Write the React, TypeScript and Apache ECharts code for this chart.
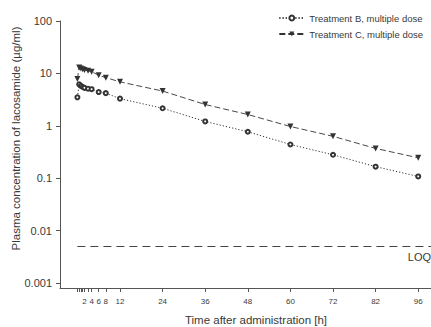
import React, { useEffect, useRef } from "react";
import * as echarts from "echarts";

const hours = [0, 0.5, 1, 1.5, 2, 3, 4, 6, 8, 12, 24, 36, 48, 60, 72, 84, 96];
const treatmentB = [3.5, 6.2, 5.8, 5.5, 5.3, 5.1, 5.0, 4.4, 4.2, 3.3, 2.16, 1.21, 0.77, 0.44, 0.28, 0.166, 0.108];
const treatmentC = [7.8, 13.0, 12.4, 12.0, 11.6, 11.2, 10.8, 9.2, 8.3, 6.9, 4.6, 2.55, 1.64, 0.97, 0.63, 0.37, 0.245];
const loqValue = 0.005;
const loqStartHour = 0;
const loqEndHour = 99.6;

const xTickValues = [0, 0.5, 1, 1.5, 2, 3, 4, 6, 8, 12, 24, 36, 48, 60, 72, 84, 96];
const xLabelValues = [2, 4, 6, 8, 12, 24, 36, 48, 60, 72, 84, 96];
const xLabelTexts = ["2", "4", "6", "8", "12", "24", "36", "48", "60", "72", "82", "96"];
const yTickValues = [0.001, 0.01, 0.1, 1, 10, 100];

const FONT = "Liberation Sans, Arial, sans-serif";
const INK = "#333";
const TEXT = "#3a3a3a";

export default function App() {
  const ref = useRef<HTMLDivElement>(null);
  useEffect(() => {
    if (!ref.current) return;
    const chart = echarts.init(ref.current, undefined, { renderer: "svg" });
    const seriesB = hours.map((h, i) => [h, treatmentB[i]]);
    const seriesC = hours.map((h, i) => [h, treatmentC[i]]);
    chart.setOption({
      animation: false,
      textStyle: { fontFamily: FONT },
      grid: { left: 60, right: 0, top: 21, bottom: 39, outerBoundsMode: "none", containLabel: false },
      legend: {
        data: ["Treatment B, multiple dose", "Treatment C, multiple dose"],
        orient: "vertical",
        right: 3,
        top: 8,
        itemWidth: 25,
        itemHeight: 6,
        itemGap: 6,
        textStyle: { fontSize: 9.5, color: TEXT, fontFamily: FONT },
      },
      xAxis: {
        type: "value",
        min: -4.9,
        max: 99.6,
        name: "Time after administration [h]",
        nameLocation: "middle",
        nameGap: 26,
        nameMoveOverlap: false,
        nameTextStyle: { fontSize: 11.5, color: TEXT, fontFamily: FONT, padding: [0, 0, 0, 21] },
        axisLine: { show: true, onZero: false, lineStyle: { color: "#555", width: 1 } },
        axisTick: { show: true, length: 4, lineStyle: { color: "#555" }, customValues: xTickValues },
        axisLabel: {
          fontSize: 8,
          color: TEXT,
          margin: 9,
          customValues: xLabelValues,
          formatter: (v: number) => {
            const i = xLabelValues.indexOf(v);
            return i >= 0 ? xLabelTexts[i] : "";
          },
        },
        splitLine: { show: false },
      },
      yAxis: {
        type: "log",
        logBase: 10,
        min: 0.000803,
        max: 100,
        name: "Plasma concentration of lacosamide (µg/ml)",
        nameLocation: "middle",
        nameRotate: 90,
        nameGap: 38,
        nameMoveOverlap: false,
        nameTextStyle: { fontSize: 11.5, color: TEXT, fontFamily: FONT, padding: [0, 0, 0, 32] },
        axisLine: { show: true, onZero: false, lineStyle: { color: "#555", width: 1 } },
        axisTick: { show: true, length: 4, lineStyle: { color: "#555" }, customValues: yTickValues },
        axisLabel: {
          fontSize: 11,
          color: TEXT,
          margin: 8,
          customValues: yTickValues,
          formatter: (v: number) => String(Number(v.toPrecision(1))),
        },
        splitLine: { show: false },
        minorTick: { show: false },
      },
      series: [
        {
          name: "Treatment B, multiple dose",
          type: "line",
          data: seriesB,
          symbol: "emptyCircle",
          symbolSize: 4,
          itemStyle: { color: INK, borderColor: INK, borderWidth: 0.8 },
          lineStyle: { color: INK, width: 1, type: [1.2, 2] },
          color: INK,
        },
        {
          name: "Treatment C, multiple dose",
          type: "line",
          data: seriesC,
          symbol: "triangle",
          symbolRotate: 180,
          symbolSize: 6,
          itemStyle: { color: INK },
          lineStyle: { color: INK, width: 0.9, type: [6, 3] },
          color: INK,
        },
        {
          name: "LOQ",
          type: "line",
          data: [],
          markLine: {
            silent: true,
            symbol: ["none", "none"],
            lineStyle: { color: "#444", width: 1, type: [8, 5] },
            label: {
              show: true,
              position: "insideEndBottom",
              formatter: "LOQ",
              fontSize: 11,
              color: TEXT,
              fontFamily: FONT,
              distance: [0, 5],
            },
            data: [[{ coord: [loqStartHour, loqValue] }, { coord: [loqEndHour, loqValue] }]],
          },
        },
      ],
    });
    return () => chart.dispose();
  }, []);
  return (
    <div
      ref={ref}
      style={{ position: "fixed", left: 0, top: 0, width: 431, height: 327, background: "#fff" }}
    />
  );
}
